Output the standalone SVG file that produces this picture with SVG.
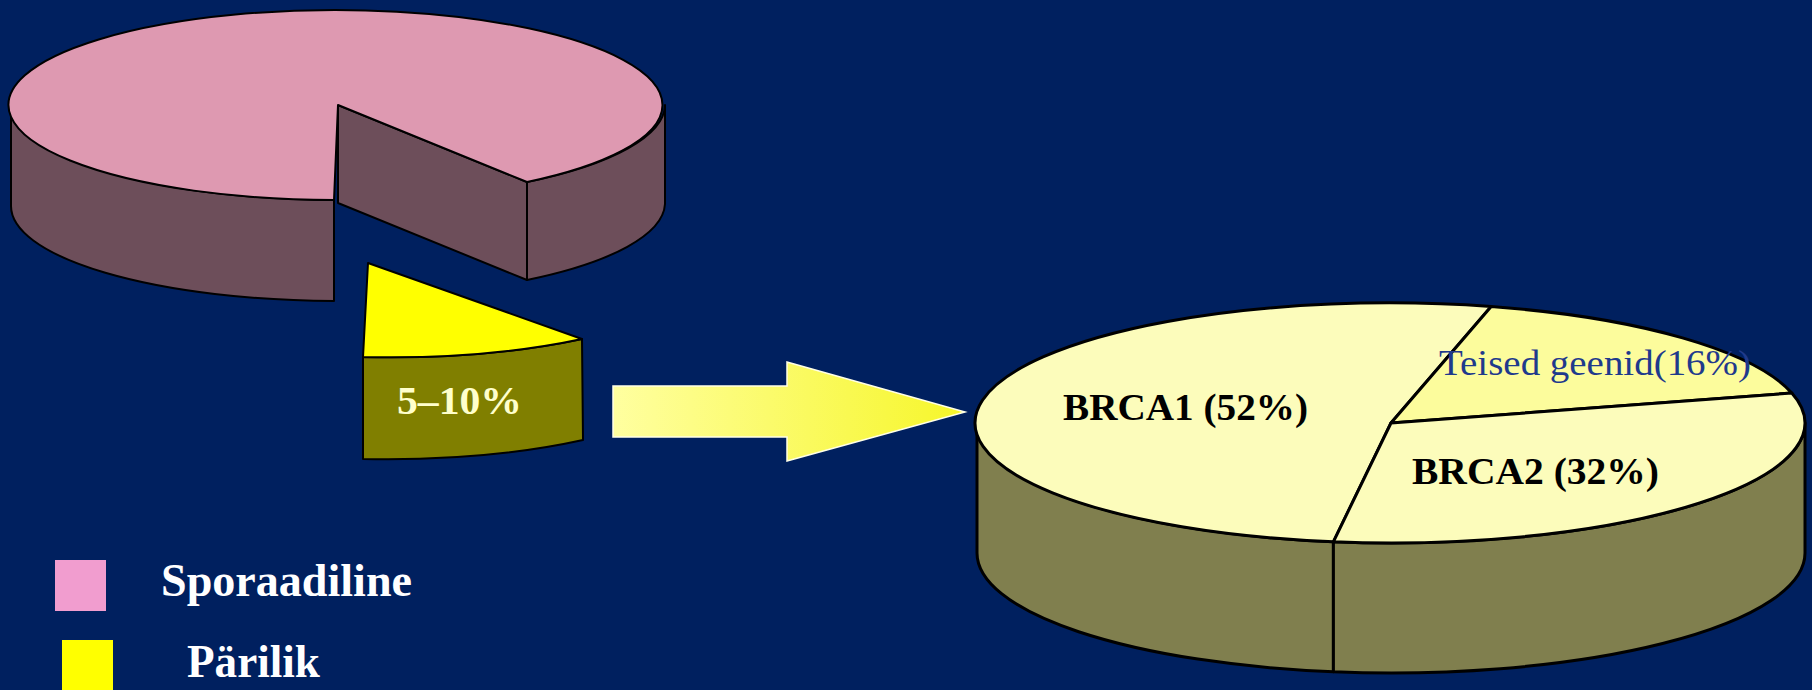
<svg xmlns="http://www.w3.org/2000/svg" width="1812" height="690" viewBox="0 0 1812 690">
<defs>
<linearGradient id="arrowGrad" x1="0" y1="0" x2="1" y2="0">
<stop offset="0" stop-color="#FFFFA0"/>
<stop offset="1" stop-color="#F6F62A"/>
</linearGradient>
</defs>
<style>
.edge{stroke:#000;stroke-width:2;stroke-linejoin:round}
.edge3{stroke:#000;stroke-width:3;stroke-linejoin:round}
.pinkTop{fill:#DE99B1}
.pinkSide{fill:#6D4E5A}
.yelTop{fill:#FFFF00}
.yelSide{fill:#807F00}
.paleTop{fill:#FCFCBB}
.teisTop{fill:#FCFC9C}
.oliveSide{fill:#807F4E}
.lbl{font-family:"Liberation Serif",serif;font-weight:bold}
</style>
<rect width="1812" height="690" fill="#00205F"/>

<g id="sporadic-pie">
<path class="pinkSide edge" d="M11,105 A327,95 0 0 0 334,200 L334,301 A327,95 0 0 1 11,206 Z"/>
<path class="pinkSide edge" d="M527,182 A327,95 0 0 0 665,105 L665,204 A327,95 0 0 1 527,280 Z"/>
<path class="pinkSide edge" d="M338,105 L527,182 L527,280 L338,203 Z"/>
<path class="pinkTop edge" d="M338,105 L527,182 A327,95 0 1 0 334,200 Z"/>
</g>

<g id="hereditary-wedge">
<path class="yelSide edge" d="M363,357 A327,95 0 0 0 582,339 L583,440 A327,95 0 0 1 363,459 Z"/>
<path class="yelTop edge" d="M368,263 L582,339 A327,95 0 0 1 363,357 Z"/>
<text class="lbl" x="397" y="414" font-size="40" fill="#FFFFCC" textLength="125" lengthAdjust="spacingAndGlyphs">5–10%</text>
</g>

<g id="connectors">
<polygon points="613,386 787,386 787,362 965,412 787,461 787,437 613,437" fill="url(#arrowGrad)" stroke="#FFFFE6" stroke-width="1.5"/>
</g>

<g id="genes-pie">
<path class="oliveSide edge3" d="M977,423 A414,120 0 0 0 1333.4,541.8 L1333.4,671.8 A414,120 0 0 1 977,553 Z"/>
<path class="oliveSide edge3" d="M1333.4,541.8 A414,120 0 0 0 1805,423 L1805,553 A414,120 0 0 1 1333.4,671.8 Z"/>
<g id="brca1">
<path class="paleTop edge3" d="M1391,423 L1333.4,541.8 A414,120 0 1 1 1491.2,306.6 Z"/>
<text class="lbl" x="1063" y="420" font-size="38" fill="#000" textLength="245" lengthAdjust="spacingAndGlyphs">BRCA1 (52%)</text>
</g>
<g id="teised">
<path class="teisTop edge3" d="M1391,423 L1491.2,306.6 A414,120 0 0 1 1791.8,393 Z"/>
<text x="1439" y="375" font-family="Liberation Serif, serif" font-size="36" fill="#1F3A8C" textLength="312" lengthAdjust="spacingAndGlyphs">Teised geenid(16%)</text>
</g>
<g id="brca2">
<path class="paleTop edge3" d="M1391,423 L1791.8,393 A414,120 0 0 1 1333.4,541.8 Z"/>
<text class="lbl" x="1412" y="484" font-size="38" fill="#000" textLength="247" lengthAdjust="spacingAndGlyphs">BRCA2 (32%)</text>
</g>
</g>

<g id="legend">
<g id="legend-sporadic">
<rect x="55" y="560" width="51" height="51" fill="#F19DCF"/>
<text class="lbl" x="161" y="596" font-size="46" fill="#FFFFFF" textLength="251" lengthAdjust="spacingAndGlyphs">Sporaadiline</text>
</g>
<g id="legend-hereditary">
<rect x="62" y="640" width="51" height="51" fill="#FFFF00"/>
<text class="lbl" x="187" y="677" font-size="46" fill="#FFFFFF" textLength="133" lengthAdjust="spacingAndGlyphs">Pärilik</text>
</g>
</g>
</svg>
